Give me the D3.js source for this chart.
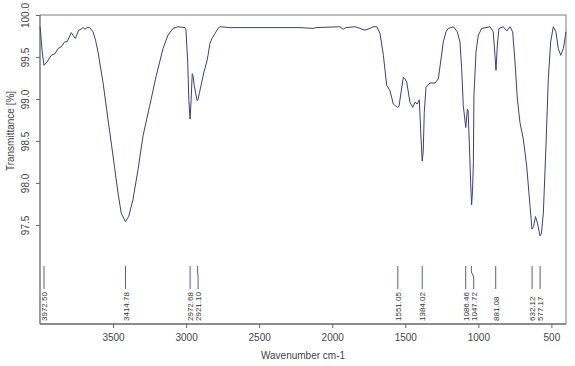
<!DOCTYPE html>
<html>
<head>
<meta charset="utf-8">
<script src="https://cdn.jsdelivr.net/npm/d3@7"></script>
<style>
  body { margin: 0; background: #fff; }
  svg { font-family: "Liberation Sans", Arial, sans-serif; }
</style>
</head>
<body>
<div id="chart"></div>
<script>
// spectrum
const wavenumbers = [
    4000, 3998, 3986, 3973, 3952, 3923, 3897, 3877, 3856, 3831, 3815, 3786, 3774, 3758, 3735, 3719,
    3706, 3692, 3678, 3660, 3637, 3620, 3603, 3569, 3535, 3500, 3466, 3444, 3416, 3393, 3364, 3329,
    3295, 3249, 3204, 3158, 3124, 3090, 3056, 3008, 3001, 2989, 2981, 2973, 2966, 2958, 2953, 2944,
    2925, 2919, 2908, 2893, 2878, 2859, 2850, 2837, 2823, 2802, 2782, 2768, 2700, 2220, 2132, 2111,
    1947, 1926, 1906, 1844, 1810, 1776, 1741, 1721, 1694, 1673, 1650, 1627, 1605, 1582, 1555, 1543,
    1529, 1513, 1502, 1490, 1468, 1449, 1433, 1418, 1404, 1394, 1384, 1377, 1370, 1358, 1331, 1297,
    1274, 1258, 1240, 1221, 1206, 1171, 1144, 1126, 1114, 1103, 1086, 1075, 1070, 1061, 1053, 1046,
    1040, 1034, 1030, 1016, 1000, 977, 920, 898, 886, 879, 870, 859, 829, 806, 783, 765,
    749, 733, 715, 692, 669, 646, 633, 622, 609, 595, 578, 568, 555, 537, 521, 505,
    487, 469, 453, 436, 418, 400
];
const transmittance = [
    99.86, 99.84, 99.58, 99.40, 99.44, 99.52, 99.54, 99.60, 99.62, 99.68, 99.68, 99.79, 99.76, 99.72, 99.82, 99.83,
    99.85, 99.83, 99.85, 99.85, 99.80, 99.70, 99.56, 99.20, 98.76, 98.32, 97.88, 97.64, 97.54, 97.60, 97.80, 98.16,
    98.56, 98.92, 99.28, 99.60, 99.76, 99.84, 99.86, 99.85, 99.82, 99.44, 98.98, 98.76, 98.98, 99.30, 99.28, 99.16,
    98.98, 98.99, 99.08, 99.20, 99.32, 99.44, 99.52, 99.66, 99.72, 99.78, 99.84, 99.86, 99.85, 99.85, 99.84, 99.85,
    99.86, 99.83, 99.85, 99.86, 99.84, 99.82, 99.84, 99.86, 99.86, 99.78, 99.52, 99.16, 99.10, 98.94, 98.90, 98.91,
    99.08, 99.26, 99.24, 99.20, 98.96, 98.90, 98.96, 98.94, 98.99, 98.60, 98.26, 98.38, 98.84, 99.14, 99.19, 99.19,
    99.24, 99.44, 99.68, 99.80, 99.84, 99.86, 99.80, 99.68, 99.36, 98.92, 98.66, 98.88, 98.86, 98.44, 98.02, 97.74,
    97.90, 98.24, 99.04, 99.56, 99.76, 99.84, 99.86, 99.80, 99.52, 99.34, 99.64, 99.84, 99.86, 99.81, 99.86, 99.80,
    99.44, 99.00, 98.72, 98.52, 98.20, 97.72, 97.45, 97.48, 97.60, 97.52, 97.37, 97.40, 97.64, 98.44, 99.24, 99.68,
    99.86, 99.80, 99.60, 99.52, 99.60, 99.80
];
const peaks = [3972.50, 3414.78, 2972.68, 2921.10, 1551.05, 1384.02, 1086.46, 1047.72, 881.08, 632.12, 577.17];
const peakLabels = ["3972.50", "3414.78", "2972.68", "2921.10", "1551.05", "1384.02", "1086.46", "1047.72", "881.08", "632.12", "577.17"];
const xTicks = [3500, 3000, 2500, 2000, 1500, 1000, 500];
const yTicks = [97.5, 98.0, 98.5, 99.0, 99.5, 100.0];

const width = 575, height = 366;
const margin = { top: 15, right: 9, bottom: 42, left: 40 };

const svg = d3.select('#chart').append('svg')
    .attr('width', width)
    .attr('height', height);

const x = d3.scaleLinear()
    .domain([4000, 400])
    .range([margin.left, width - margin.right]);

const y = d3.scaleLinear()
    .domain([96.32, 100])
    .range([height - margin.bottom, margin.top]);

// frame: light grey top/right
svg.append('path')
    .attr('d', `M${margin.left},${margin.top}H${width - margin.right}V${height - margin.bottom}`)
    .attr('fill', 'none')
    .attr('stroke', '#a8a8a8')
    .attr('stroke-width', 1.5);

// axes
const xAxis = svg.append('g')
    .attr('transform', `translate(0,${height - margin.bottom})`)
    .call(d3.axisBottom(x).tickValues(xTicks).tickFormat(d3.format('d')).tickSize(4).tickSizeOuter(0).tickPadding(6));

const yAxis = svg.append('g')
    .attr('transform', `translate(${margin.left},0)`)
    .call(d3.axisLeft(y).tickValues(yTicks).tickFormat(d3.format('.1f')).tickSize(4).tickSizeOuter(0));

[xAxis, yAxis].forEach(g => {
    g.select('.domain').attr('stroke', '#666').attr('stroke-width', 1.3);
    g.selectAll('.tick line').attr('stroke', '#666');
    g.selectAll('.tick text').attr('fill', '#444').attr('font-size', '10px')
        .attr('font-family', '"Liberation Sans", Arial, sans-serif');
});
yAxis.select('.domain').attr('d', `M0,${margin.top}V${height - margin.bottom}`);
xAxis.select('.domain').attr('d', `M${margin.left},0H${width - margin.right}`);

yAxis.selectAll('.tick text')
    .attr('x', null).attr('dy', null)
    .attr('text-anchor', 'middle')
    .attr('transform', 'translate(-11,0) rotate(-90)');

// axis titles
svg.append('text')
    .attr('x', (margin.left + width - margin.right) / 2)
    .attr('y', 359)
    .attr('text-anchor', 'middle')
    .attr('font-size', '10px')
    .attr('fill', '#444')
    .text('Wavenumber cm-1');

svg.append('text')
    .attr('transform', 'translate(14,131) rotate(-90)')
    .attr('text-anchor', 'middle')
    .attr('font-size', '10px')
    .attr('fill', '#444')
    .text('Transmittance [%]');

// spectrum
const spectrum = wavenumbers.map((w, i) => ({ w: w, t: transmittance[i] }));
const line = d3.line()
    .x(d => x(d.w))
    .y(d => y(d.t));

svg.append('path')
    .datum(spectrum)
    .attr('d', line)
    .attr('fill', 'none')
    .attr('stroke', '#3d3d7e')
    .attr('stroke-width', 1);

// peak markers, labels nudged apart when they would overlap
const minGap = 8;
const labelX = [];
peaks.forEach((p, i) => {
    let lx = x(p);
    if (i > 0 && lx - labelX[i - 1] < minGap) lx = labelX[i - 1] + minGap;
    labelX.push(lx);
});

const markY0 = 266, markY1 = 289, bendY0 = 272, bendY1 = 277;
svg.selectAll('.marker')
    .data(peaks)
  .enter().append('path')
    .attr('class', 'marker')
    .attr('d', (d, i) => `M${x(d)},${markY0}V${bendY0}L${labelX[i]},${bendY1}V${markY1}`)
    .attr('fill', 'none')
    .attr('stroke', '#5a5a98')
    .attr('stroke-width', 1);

svg.selectAll('.plabel')
    .data(peakLabels)
  .enter().append('text')
    .attr('class', 'plabel')
    .attr('transform', (d, i) => `translate(${labelX[i] + 3},321) rotate(-90)`)
    .attr('font-size', '8px')
    .attr('fill', '#333')
    .text(d => d);
</script>
</body>
</html>
